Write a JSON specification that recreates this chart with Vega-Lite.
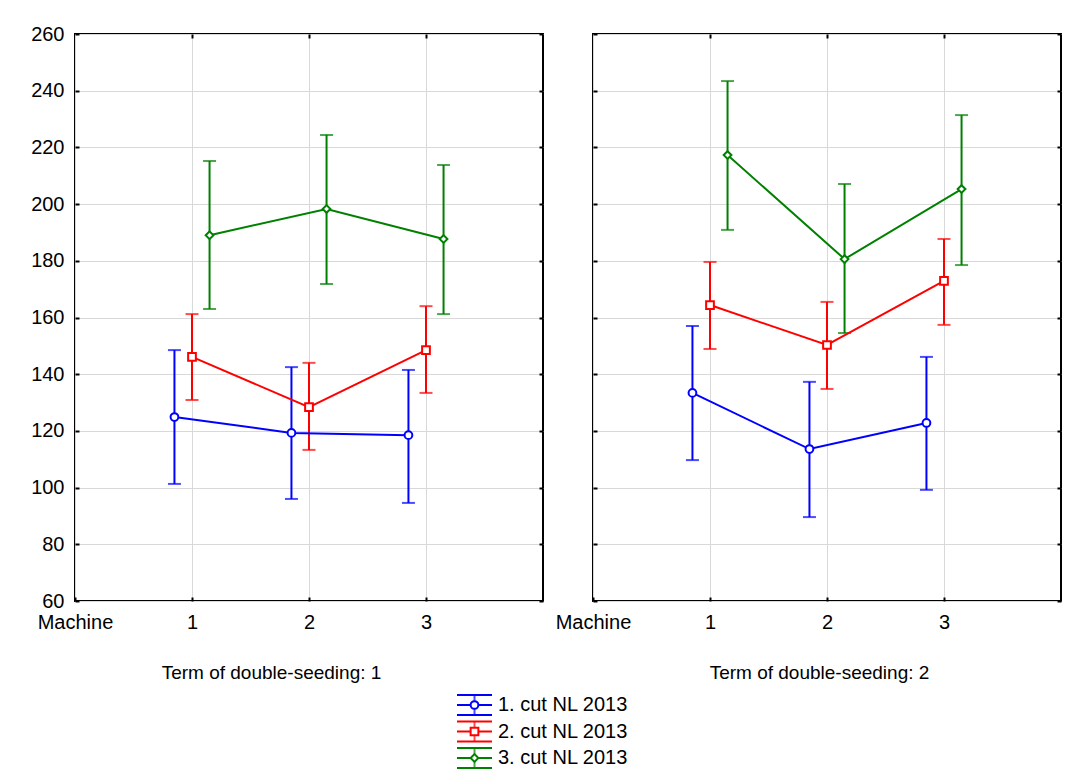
{
  "$schema": "https://vega.github.io/schema/vega-lite/v6.json",
  "background": "white",
  "autosize": {"type": "pad"},
  "padding": {"left": 29, "top": 23, "right": 0, "bottom": 0},
  "datasets": {
    "d": [
      {"term": 1, "machine": 1, "series": "1. cut NL 2013", "mean": 124.9, "lo": 101.3, "hi": 148.5},
      {"term": 1, "machine": 2, "series": "1. cut NL 2013", "mean": 119.3, "lo": 96.0, "hi": 142.5},
      {"term": 1, "machine": 3, "series": "1. cut NL 2013", "mean": 118.5, "lo": 94.6, "hi": 141.5},
      {"term": 1, "machine": 1, "series": "2. cut NL 2013", "mean": 146.1, "lo": 130.9, "hi": 161.2},
      {"term": 1, "machine": 2, "series": "2. cut NL 2013", "mean": 128.4, "lo": 113.3, "hi": 144.0},
      {"term": 1, "machine": 3, "series": "2. cut NL 2013", "mean": 148.5, "lo": 133.4, "hi": 164.0},
      {"term": 1, "machine": 1, "series": "3. cut NL 2013", "mean": 189.0, "lo": 163.0, "hi": 215.2},
      {"term": 1, "machine": 2, "series": "3. cut NL 2013", "mean": 198.3, "lo": 171.8, "hi": 224.4},
      {"term": 1, "machine": 3, "series": "3. cut NL 2013", "mean": 187.7, "lo": 161.2, "hi": 213.8},
      {"term": 2, "machine": 1, "series": "1. cut NL 2013", "mean": 133.4, "lo": 109.7, "hi": 157.0},
      {"term": 2, "machine": 2, "series": "1. cut NL 2013", "mean": 113.6, "lo": 89.6, "hi": 137.3},
      {"term": 2, "machine": 3, "series": "1. cut NL 2013", "mean": 122.8, "lo": 99.2, "hi": 146.1},
      {"term": 2, "machine": 1, "series": "2. cut NL 2013", "mean": 164.4, "lo": 148.9, "hi": 179.6},
      {"term": 2, "machine": 2, "series": "2. cut NL 2013", "mean": 150.3, "lo": 134.8, "hi": 165.5},
      {"term": 2, "machine": 3, "series": "2. cut NL 2013", "mean": 172.9, "lo": 157.4, "hi": 187.7},
      {"term": 2, "machine": 1, "series": "3. cut NL 2013", "mean": 217.3, "lo": 190.9, "hi": 243.4},
      {"term": 2, "machine": 2, "series": "3. cut NL 2013", "mean": 180.6, "lo": 154.5, "hi": 207.1},
      {"term": 2, "machine": 3, "series": "3. cut NL 2013", "mean": 205.3, "lo": 178.5, "hi": 231.4}
    ]
  },
  "spacing": 50,
  "bounds": "flush",
  "resolve": {"scale": {"color": "shared", "shape": "shared"}},
  "hconcat": [
    {
      "width": 468,
      "height": 567,
      "layer": [
        {
          "data": {"name": "d"},
          "transform": [
            {"filter": "datum.term === 1"},
            {"calculate": "datum.machine + (datum.series === '1. cut NL 2013' ? -0.15 : (datum.series === '3. cut NL 2013' ? 0.15 : 0))", "as": "xpos"}
          ],
          "layer": [
            {
              "encoding": {
                "x": {"field": "xpos", "type": "quantitative", "scale": {"domain": [0, 4], "nice": false, "zero": false},
                  "axis": {"values": [0, 1, 2, 3], "labelExpr": "datum.value === 0 ? '\u00a0\u00a0\u00a0\u00a0Machine' : datum.label", "labelFlush": false, "labelPadding": 15,
                    "title": "Term of double-seeding: 1", "titleX": 196, "titlePadding": 31, "titleFontSize": 19}},
                "y": {"field": "mean", "type": "quantitative", "scale": {"domain": [60, 260], "nice": false, "zero": false},
                  "axis": {"values": [60, 80, 100, 120, 140, 160, 180, 200, 220, 240, 260], "labelFlush": false, "labelPadding": 15, "title": null}},
                "color": {"field": "series", "type": "nominal", "scale": {"domain": ["1. cut NL 2013", "2. cut NL 2013", "3. cut NL 2013"], "range": ["#0000ff", "#ff0000", "#008000"]}, "legend": null}
              },
              "layer": [
                {"mark": {"type": "rule", "strokeWidth": 2},
                  "encoding": {"y": {"field": "lo", "type": "quantitative"}, "y2": {"field": "hi"}}},
                {"mark": {"type": "tick", "orient": "horizontal", "size": 13, "thickness": 2},
                  "encoding": {"y": {"field": "lo", "type": "quantitative"}}},
                {"mark": {"type": "tick", "orient": "horizontal", "size": 13, "thickness": 2},
                  "encoding": {"y": {"field": "hi", "type": "quantitative"}}},
                {"mark": {"type": "line", "strokeWidth": 2}},
                {"mark": {"type": "point", "filled": false, "fill": "white", "fillOpacity": 1, "size": 60, "strokeWidth": 2, "opacity": 1},
                  "encoding": {"shape": {"field": "series", "type": "nominal", "scale": {"domain": ["1. cut NL 2013", "2. cut NL 2013", "3. cut NL 2013"], "range": ["circle", "square", "diamond"]}, "legend": null}}}
              ]
            },
            {"mark": {"type": "point", "opacity": 0},
              "encoding": {
                "x": {"field": "xpos", "type": "quantitative", "axis": {"orient": "top", "values": [1, 2, 3], "labels": false, "grid": false, "title": null}},
                "y": {"field": "mean", "type": "quantitative", "axis": {"orient": "right", "values": [60, 80, 100, 120, 140, 160, 180, 200, 220, 240, 260], "labels": false, "grid": false, "title": null}}}}
          ],
          "resolve": {"axis": {"x": "independent", "y": "independent"}}
        },
        {
          "data": {"name": "d"},
          "transform": [{"filter": "datum.term === 1 && datum.machine === 1"}],
          "encoding": {
            "y": {"field": "series", "type": "nominal", "scale": {"type": "point", "range": [671, 724], "padding": 0}, "axis": null},
            "color": {"field": "series", "type": "nominal", "legend": null}
          },
          "layer": [
            {"mark": {"type": "rule", "strokeWidth": 2},
              "encoding": {"x": {"datum": 0, "type": "quantitative", "scale": {"domain": [0, 222], "range": [382, 604], "nice": false, "zero": false}, "axis": null}, "x2": {"datum": 35}}},
            {"mark": {"type": "rule", "strokeWidth": 2, "yOffset": -10},
              "encoding": {"x": {"datum": 0, "type": "quantitative"}, "x2": {"datum": 35}}},
            {"mark": {"type": "rule", "strokeWidth": 2, "yOffset": 10},
              "encoding": {"x": {"datum": 0, "type": "quantitative"}, "x2": {"datum": 35}}},
            {"mark": {"type": "tick", "orient": "vertical", "size": 20, "thickness": 2},
              "encoding": {"x": {"datum": 17.5, "type": "quantitative"}}},
            {"mark": {"type": "point", "filled": false, "fill": "white", "fillOpacity": 1, "size": 60, "strokeWidth": 2, "opacity": 1},
              "encoding": {"x": {"datum": 17.5, "type": "quantitative"}, "shape": {"field": "series", "type": "nominal", "legend": null}}},
            {"mark": {"type": "text", "align": "left", "baseline": "middle", "fontSize": 20, "font": "Liberation Sans"},
              "encoding": {"x": {"datum": 41, "type": "quantitative"}, "text": {"field": "series"}, "color": {"value": "#000000"}}}
          ]
        }
      ],
      "resolve": {"scale": {"x": "independent", "y": "independent"}, "axis": {"x": "independent", "y": "independent"}}
    },
    {
      "width": 468,
      "height": 567,
      "data": {"name": "d"},
      "transform": [
        {"filter": "datum.term === 2"},
        {"calculate": "datum.machine + (datum.series === '1. cut NL 2013' ? -0.15 : (datum.series === '3. cut NL 2013' ? 0.15 : 0))", "as": "xpos"}
      ],
      "layer": [
        {
          "encoding": {
            "x": {"field": "xpos", "type": "quantitative", "scale": {"domain": [0, 4], "nice": false, "zero": false},
              "axis": {"values": [0, 1, 2, 3], "labelExpr": "datum.value === 0 ? '\u00a0\u00a0\u00a0\u00a0Machine' : datum.label", "labelFlush": false, "labelPadding": 15,
                "title": "Term of double-seeding: 2", "titleX": 226, "titlePadding": 31, "titleFontSize": 19}},
            "y": {"field": "mean", "type": "quantitative", "scale": {"domain": [60, 260], "nice": false, "zero": false},
              "axis": {"values": [60, 80, 100, 120, 140, 160, 180, 200, 220, 240, 260], "labels": false, "title": null}},
            "color": {"field": "series", "type": "nominal", "legend": null}
          },
          "layer": [
            {"mark": {"type": "rule", "strokeWidth": 2},
              "encoding": {"y": {"field": "lo", "type": "quantitative"}, "y2": {"field": "hi"}}},
            {"mark": {"type": "tick", "orient": "horizontal", "size": 13, "thickness": 2},
              "encoding": {"y": {"field": "lo", "type": "quantitative"}}},
            {"mark": {"type": "tick", "orient": "horizontal", "size": 13, "thickness": 2},
              "encoding": {"y": {"field": "hi", "type": "quantitative"}}},
            {"mark": {"type": "line", "strokeWidth": 2}},
            {"mark": {"type": "point", "filled": false, "fill": "white", "fillOpacity": 1, "size": 60, "strokeWidth": 2, "opacity": 1},
              "encoding": {"shape": {"field": "series", "type": "nominal", "legend": null}}}
          ]
        },
        {"mark": {"type": "point", "opacity": 0},
          "encoding": {
            "x": {"field": "xpos", "type": "quantitative", "axis": {"orient": "top", "values": [1, 2, 3], "labels": false, "grid": false, "title": null}},
            "y": {"field": "mean", "type": "quantitative", "axis": {"orient": "right", "values": [60, 80, 100, 120, 140, 160, 180, 200, 220, 240, 260], "labels": false, "grid": false, "title": null}}}}
      ],
      "resolve": {"axis": {"x": "independent", "y": "independent"}}
    }
  ],
  "config": {
    "font": "Liberation Sans",
    "view": {"stroke": "#000000", "strokeWidth": 2},
    "axis": {
      "grid": true, "gridColor": "#d9d9d9", "gridWidth": 1,
      "domain": false,
      "ticks": true, "tickColor": "#000000", "tickSize": -4, "tickWidth": 2,
      "labelFont": "Liberation Sans", "labelFontSize": 20, "labelColor": "#000000",
      "titleFont": "Liberation Sans", "titleFontSize": 19, "titleFontWeight": "normal", "titleColor": "#000000"
    }
  }
}
